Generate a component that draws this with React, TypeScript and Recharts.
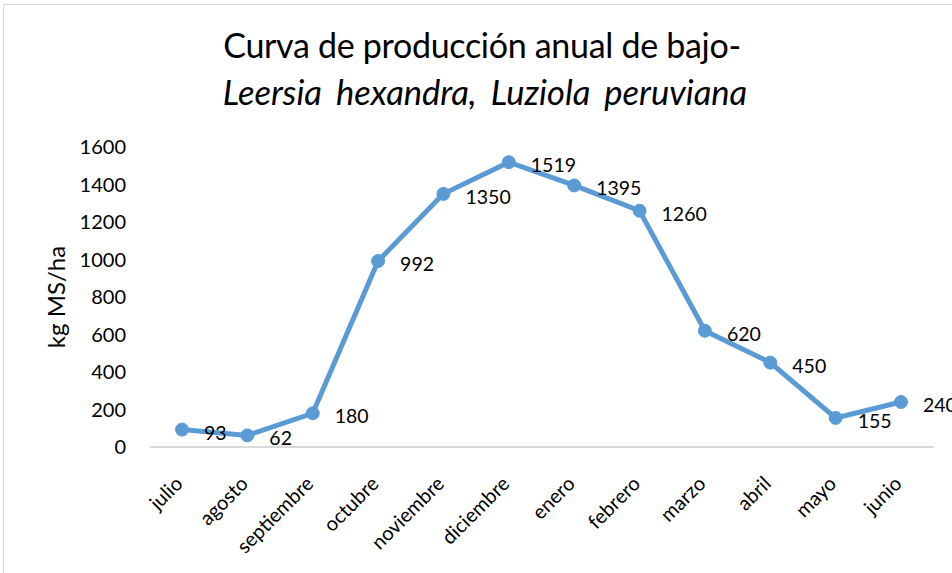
import React from 'react';
import { LineChart, Line, XAxis, YAxis, LabelList } from 'recharts';

const months = ['julio', 'agosto', 'septiembre', 'octubre', 'noviembre', 'diciembre', 'enero', 'febrero', 'marzo', 'abril', 'mayo', 'junio'];
const production = [93, 62, 180, 992, 1350, 1519, 1395, 1260, 620, 450, 155, 240];
const yTicks = [0, 200, 400, 600, 800, 1000, 1200, 1400, 1600];

const data = months.map((m, i) => ({ month: m, value: production[i] }));

const FONT = 'Lato, "Open Sans", sans-serif';

const XTick = (props: any) => {
  const { x, y, payload } = props;
  const ax = x + 2;
  const ay = y + 30;
  return (
    <text
      x={ax}
      y={ay}
      textAnchor="end"
      fontSize={20}
      fontFamily={FONT}
      fill="#000"
      transform={`rotate(-45, ${ax}, ${ay})`}
    >
      {payload.value}
    </text>
  );
};

const ValueLabel = (props: any) => {
  const { x, y, value } = props;
  return (
    <text x={x + 22} y={y + 10} fontSize={19.5} fontFamily={FONT} fill="#000" textAnchor="start">
      {value}
    </text>
  );
};

export default function App() {
  return (
    <div style={{ position: 'absolute', left: 0, top: 0, width: 952, height: 573, background: '#fff', overflow: 'hidden' }}>
      <div style={{ position: 'absolute', left: 3, top: 4, width: 960, height: 580, border: '1.5px solid #d9d9d9', boxSizing: 'border-box' }} />
      <div style={{ position: 'absolute', left: 0, top: 25, width: 964, textAlign: 'center', fontFamily: FONT, fontSize: 34, color: '#000', lineHeight: '40px', letterSpacing: -0.3 }}>
        Curva de producción anual de bajo-
      </div>
      <div style={{ position: 'absolute', left: 0, top: 72, width: 970, textAlign: 'center', fontFamily: FONT, fontSize: 34.5, fontStyle: 'italic', color: '#000', lineHeight: '40px', wordSpacing: 6 }}>
        Leersia hexandra, Luziola peruviana
      </div>
      <div style={{ position: 'absolute', left: 0, top: 0 }}>
        <LineChart width={952} height={573} data={data} margin={{ top: 147, right: 18, bottom: 0, left: 0 }}>
          <XAxis
            dataKey="month"
            interval={0}
            tickLine={false}
            axisLine={{ stroke: '#d9d9d9', strokeWidth: 2 }}
            tick={<XTick />}
            height={126}
            padding={{ left: 32, right: 33 }}
          />
          <YAxis
            width={150}
            domain={[0, 1600]}
            ticks={yTicks}
            interval={0}
            axisLine={false}
            tickLine={false}
            tickSize={0}
            tickMargin={24}
            tick={{ fontSize: 20, fontFamily: FONT, fill: '#000' }}
            label={{ value: 'kg MS/ha', angle: -90, position: 'insideLeft', offset: 56, style: { fontSize: 24, fontFamily: FONT, fill: '#000', textAnchor: 'middle' } }}
          />
          <Line
            type="linear"
            dataKey="value"
            stroke="#5b9bd5"
            strokeWidth={5}
            dot={{ r: 6.5, fill: '#5b9bd5', stroke: '#5b9bd5', strokeWidth: 1 }}
            isAnimationActive={false}
          >
            <LabelList dataKey="value" content={<ValueLabel />} />
          </Line>
        </LineChart>
      </div>
    </div>
  );
}
